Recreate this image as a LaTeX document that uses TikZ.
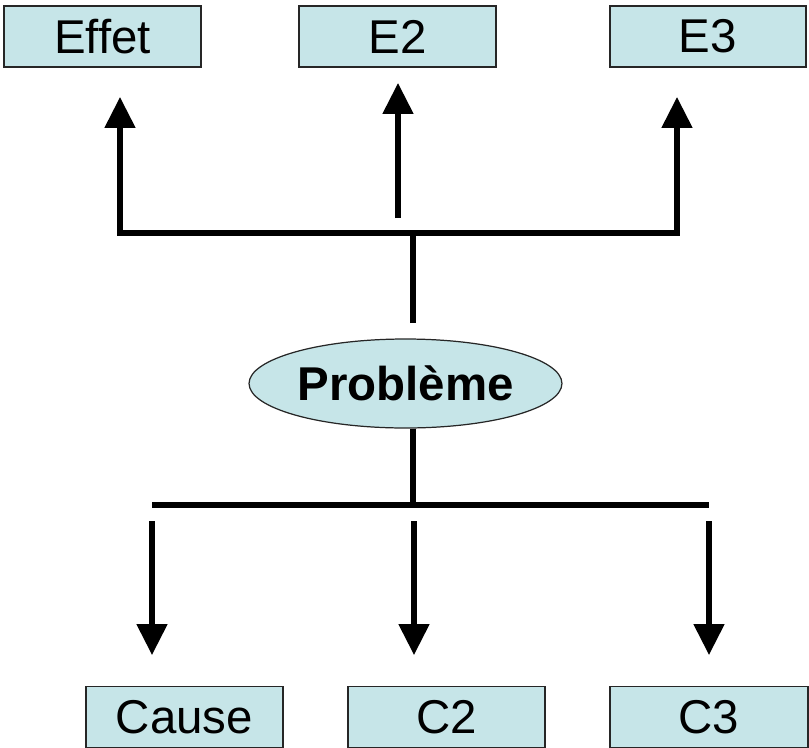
\documentclass[tikz,border=0pt]{standalone}
\usepackage{fontspec}
\setmainfont{Liberation Sans}
\usetikzlibrary{arrows.meta,shapes.geometric}
\definecolor{boxblue}{RGB}{198,229,232}
\tikzset{
  box/.style={draw=black!85, fill=boxblue, line width=0.7pt, minimum height=1.22cm,
    inner sep=0pt, font=\fontsize{27}{27}\selectfont},
  link/.style={line width=2.9pt},
  arr/.style={line width=2.9pt, -{Triangle[length=0.62cm,width=0.6cm]}}
}
\begin{document}
\begin{tikzpicture}[x=0.02cm,y=-0.02cm]
    \useasboundingbox (0,0) rectangle (809,748);
    % Effects on top
    \node[box, minimum width=3.94cm] (effet) at (102.5,36.5) {Effet};
    \node[box, minimum width=3.94cm] (e2) at (397.5,36.5) {E2};
    \node[box, minimum width=3.92cm] (e3) at (708,36.5) {E3};
    % The problem
    \node[ellipse, draw=black!85, fill=boxblue, line width=0.7pt, minimum width=6.26cm,
      minimum height=1.78cm, inner sep=0pt, font=\fontsize{27}{27}\selectfont\bfseries]
      (prob) at (405.5,383.5) {Problème};
    % Causes at the bottom
    \node[box, minimum width=3.94cm] (cause) at (184.5,717) {Cause};
    \node[box, minimum width=3.94cm] (c2) at (446.5,717) {C2};
    \node[box, minimum width=3.96cm] (c3) at (709,717) {C3};
    % Junction points
    \coordinate (top) at (413,323);
    \coordinate (tj) at (413,233);
    \coordinate (effet in) at (120,97);
    \coordinate (e2 out) at (398,218);
    \coordinate (e2 in) at (398,83);
    \coordinate (e3 in) at (677,97);
    \coordinate (bj) at (413,505);
    \coordinate (bl) at (152,505);
    \coordinate (br) at (709,505);
    \coordinate (cause out) at (152,521);
    \coordinate (cause in) at (152,655);
    \coordinate (c2 out) at (414,521);
    \coordinate (c2 in) at (414,655);
    \coordinate (c3 out) at (709,521);
    \coordinate (c3 in) at (709,655);
    % Upper tree
    \draw[link] (top) -- (tj);
    \draw[arr] (tj) -| (effet in);
    \draw[arr] (tj) -| (e3 in);
    \draw[arr] (e2 out) -- (e2 in);
    % Lower tree
    \draw[link] (prob.south -| bj) -- (bj);
    \draw[link] (bl) -- (br);
    \draw[arr] (cause out) -- (cause in);
    \draw[arr] (c2 out) -- (c2 in);
    \draw[arr] (c3 out) -- (c3 in);
\end{tikzpicture}
\end{document}
